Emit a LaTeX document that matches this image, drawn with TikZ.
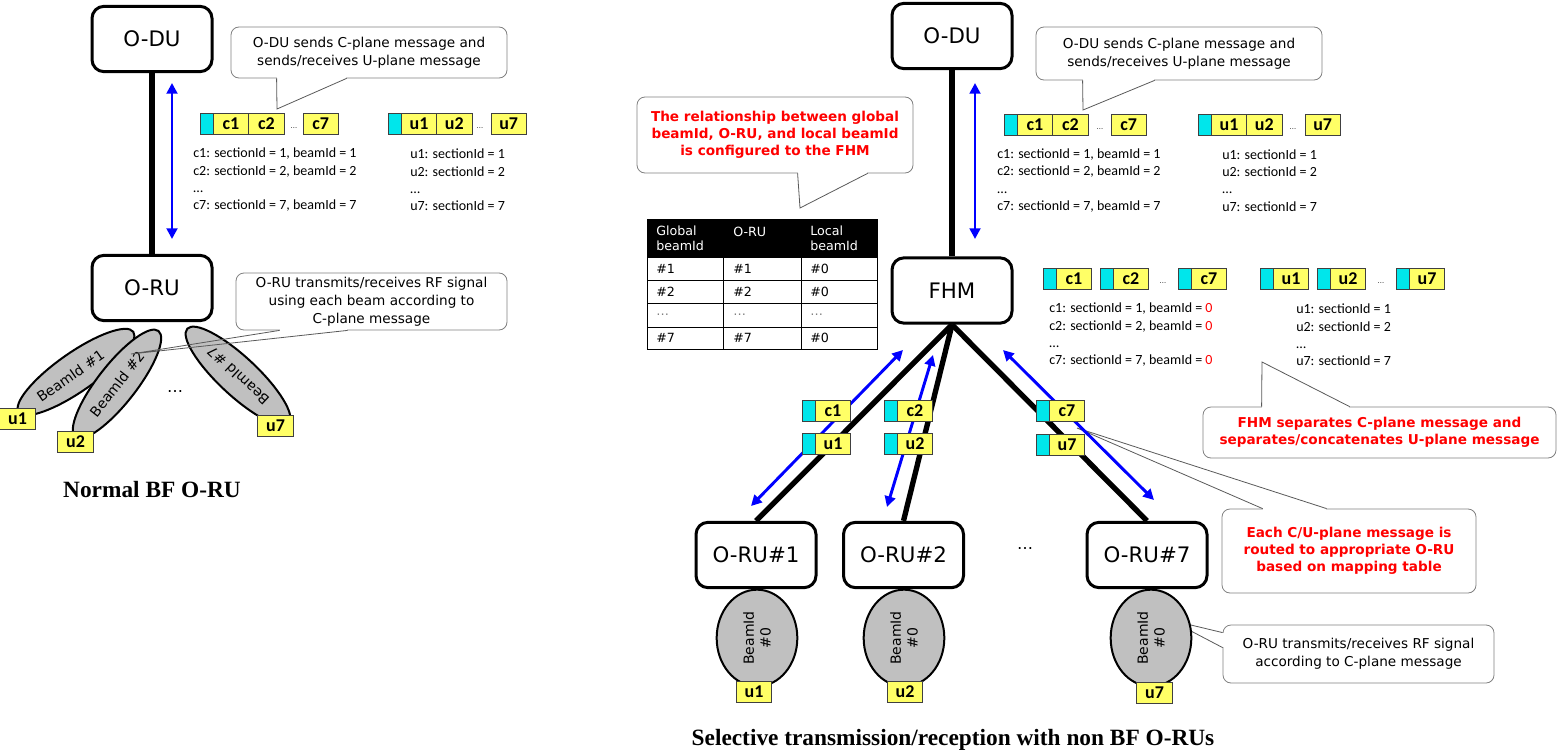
\documentclass[tikz,border=0pt]{standalone}
\usepackage{fontspec}
\setmainfont{DejaVu Sans}
\newfontfamily\calfont{Carlito}
\newfontfamily\titlefont{Liberation Serif}
\usetikzlibrary{positioning,shapes.geometric,arrows.meta}

\definecolor{hdrcyan}{HTML}{00E6EB}
\definecolor{secyellow}{HTML}{FFFF66}
\definecolor{beamgray}{HTML}{C0C0C0}

\tikzset{
	unit/.style={draw, line width=2.25pt, rounded corners=9pt, minimum width=90pt, minimum height=49pt, inner sep=0pt, font=\fontsize{16}{19}\selectfont},
	link/.style={line width=4pt},
	sig/.style={blue, line width=2.2pt, {Triangle[length=8pt,width=8pt]}-{Triangle[length=8pt,width=8pt]}},
	hdr/.style={draw=black!75, line width=0.6pt, fill=hdrcyan, minimum width=10pt, minimum height=15.75pt, inner sep=0pt, outer sep=0pt},
	sec/.style={hdr, fill=secyellow, minimum width=26.5pt, font=\calfont\bfseries\fontsize{13.5}{13.5}\selectfont},
	dots/.style={inner sep=0pt, anchor=base, font=\fontsize{5}{5}\selectfont},
	info/.style={inner sep=0pt, anchor=west, align=left, font=\calfont\fontsize{10.5}{13}\selectfont},
	note/.style={draw=gray, line width=0.6pt, fill=white, rounded corners=6pt, inner sep=0pt, align=center, font=\fontsize{10.2}{13.5}\selectfont},
	rednote/.style={note, text=red, font=\bfseries\fontsize{10.2}{12.75}\selectfont},
	ptr/.style={draw=gray!70!black, line width=0.6pt},
	erase/.style={draw=white, line width=1.4pt},
	beam/.style={ellipse, draw, line width=1.5pt, fill=beamgray, inner sep=0pt, align=center, font=\fontsize{10.5}{12.5}\selectfont},
	cell/.style={inner sep=0pt, anchor=west, align=left, font=\fontsize{9.5}{11.5}\selectfont},
	caption/.style={font=\titlefont\bfseries\fontsize{17.5}{20}\selectfont}
}

\begin{document}
\begin{tikzpicture}[x=0.75pt, y=-0.75pt]
	\useasboundingbox (0,0) rectangle (1557,753);

	\node[unit] (du1) at (152,39) {O-DU};
	\node[unit] (ru1) at (152,288) {O-RU};
	\draw[link] (du1) -- (ru1);

	\node[unit] (du2) at (952,36) {O-DU};
	\node[unit] (fhm) at (952,290.5) {FHM};
	\node[unit] (oru1) at (756,555) {O-RU\#1};
	\node[unit] (oru2) at (903.5,555) {O-RU\#2};
	\node[unit] (oru7) at (1147,555) {O-RU\#7};
	\node[font=\fontsize{12}{12}\selectfont] (orudots) at (1025,549) {…};
	\draw[link] (du2) -- (fhm);
	\draw[link] (fhm.south) -- (oru1.north);
	\draw[link] (fhm.south) -- (oru2.north);
	\draw[link] (fhm.south) -- (oru7.north);

	\node[note, minimum width=207pt, minimum height=38.25pt] (say1) at (369,52.5) {O-DU sends C-plane message and\\sends/receives U-plane message};
	\coordinate (say1tip) at (277,109);
	\draw[erase] ([xshift=35pt]say1.south west) -- ([xshift=86.5pt]say1.south west);
	\draw[ptr] ([xshift=34.5pt]say1.south west) -- (say1tip) -- ([xshift=87pt]say1.south west);

	\node[note, minimum width=214.5pt, minimum height=39.75pt] (say3) at (1179,53.5) {O-DU sends C-plane message and\\sends/receives U-plane message};
	\coordinate (say3tip) at (1083,110);
	\draw[erase] ([xshift=35.75pt]say3.south west) -- ([xshift=88.75pt]say3.south west);
	\draw[ptr] ([xshift=35.25pt]say3.south west) -- (say3tip) -- ([xshift=89.25pt]say3.south west);

	\node[rednote, minimum width=207pt, minimum height=57pt] (say4) at (775,135) {The relationship between global\\beamId, O-RU, and local beamId\\is configured to the FHM};
	\coordinate (say4tip) at (800,208);
	\draw[erase] ([xshift=121.25pt]say4.south west) -- ([xshift=172.75pt]say4.south west);
	\draw[ptr] ([xshift=120.75pt]say4.south west) -- (say4tip) -- ([xshift=173.25pt]say4.south west);

	\node[rednote, minimum width=264.75pt, minimum height=38.25pt] (say5) at (1379.5,432.5) {FHM separates C-plane message and\\separates/concatenates U-plane message};
	\coordinate (say5tip) at (1262,362);
	\draw[erase] ([xshift=44.75pt]say5.north west) -- ([xshift=109.75pt]say5.north west);
	\draw[ptr] ([xshift=44.25pt]say5.north west) -- (say5tip) -- ([xshift=110.25pt]say5.north west);

	\node[rednote, minimum width=190.5pt, minimum height=63pt] (say6) at (1349,551) {Each C/U-plane message is\\routed to appropriate O-RU\\based on mapping table};
	\coordinate (say6tip) at (1077,428);
	\draw[erase] ([xshift=31.25pt]say6.north west) -- ([xshift=78.25pt]say6.north west);
	\draw[ptr] ([xshift=30.75pt]say6.north west) -- (say6tip) -- ([xshift=78.75pt]say6.north west);

	\node[note, minimum width=203.25pt, minimum height=43.5pt] (say7) at (1358.5,654) {O-RU transmits/receives RF signal\\according to C-plane message};
	\coordinate (say7tip) at (1170,620);
	\draw[erase] ([yshift=-6.5pt]say7.north west) -- ([yshift=-16.75pt]say7.north west);
	\draw[ptr] ([yshift=-6pt]say7.north west) -- (say7tip) -- ([yshift=-17.25pt]say7.north west);

	\node[beam, rotate=35, minimum width=105pt, minimum height=29pt] (beam1) at (76,372) {BeamId \#1\hspace*{10pt}};
	\node[beam, rotate=52, minimum width=101pt, minimum height=29pt] (beam2) at (117,384) {BeamId \#2};
	\node[beam, rotate=137, minimum width=104pt, minimum height=29pt] (beam7) at (238,376) {BeamId \#7};
	\node[font=\fontsize{12}{12}\selectfont] (beamdots) at (175,392) {…};

	\node[note, minimum width=203.25pt, minimum height=42.75pt] (say2) at (371.5,301.5) {O-RU transmits/receives RF signal\\using each beam according to\\C-plane message};
	\coordinate (say2tip) at (131,354);
	\draw[erase] ([xshift=33.5pt]say2.south west) -- ([xshift=83.5pt]say2.south west);
	\draw[ptr] ([xshift=33pt]say2.south west) -- (say2tip) -- ([xshift=84pt]say2.south west);

	\node[beam, rotate=90, minimum width=72.5pt, minimum height=60.5pt] (rbeam1) at (757,638) {BeamId\\\#0};
	\node[beam, rotate=90, minimum width=72.5pt, minimum height=60.5pt] (rbeam2) at (904,638) {BeamId\\\#0};
	\node[beam, rotate=90, minimum width=72.5pt, minimum height=60.5pt] (rbeam7) at (1151,638) {BeamId\\\#0};

	\node[sec] (bu1) at (17.5,418.5) {u1};
	\node[sec] (bu2) at (75.5,442) {u2};
	\node[sec] (bu7) at (275.5,426) {u7};
	\node[sec] (rbu1) at (754,692) {u1};
	\node[sec] (rbu2) at (905,692) {u2};
	\node[sec] (rbu7) at (1154.5,692.5) {u7};

	\coordinate (sig0a) at (172,83);
	\coordinate (sig0b) at (172,239);
	\coordinate (sigda) at (975,83);
	\coordinate (sigdb) at (975,239);
	\coordinate (sig1a) at (903,350);
	\coordinate (sig1b) at (751,506);
	\coordinate (sig2a) at (933,355);
	\coordinate (sig2b) at (887,507);
	\coordinate (sig7a) at (1003,350);
	\coordinate (sig7b) at (1154,500);
	\draw[sig] (sig0a) -- (sig0b);
	\draw[sig] (sigda) -- (sigdb);
	\draw[sig] (sig1a) -- (sig1b);
	\draw[sig] (sig2a) -- (sig2b);
	\draw[sig] (sig7a) -- (sig7b);

	\node[hdr, anchor=west] (lch) at (200,123.5) {};
	\node[sec, right=0pt of lch] (lc1) {c1};
	\node[sec, right=0pt of lc1] (lc2) {c2};
	\node[dots] (lcdots) at (294,128) {…};
	\node[sec, anchor=west] (lc7) at (303,123.5) {c7};
	\node[hdr, anchor=west] (luh) at (388,123.5) {};
	\node[sec, right=0pt of luh] (lu1) {u1};
	\node[sec, right=0pt of lu1] (lu2) {u2};
	\node[dots] (ludots) at (480,128) {…};
	\node[sec, anchor=west] (lu7) at (491,123.5) {u7};
	\node[info] (lcinfo) at (193,180) {c1: sectionId = 1, beamId = 1\\c2: sectionId = 2, beamId = 2\\…\\c7: sectionId = 7, beamId = 7};
	\node[info] (luinfo) at (410,180) {u1: sectionId = 1\\u2: sectionId = 2\\…\\u7: sectionId = 7};

	\node[hdr, anchor=west] (dch) at (1004,124.5) {};
	\node[sec, right=0pt of dch] (dc1) {c1};
	\node[sec, right=0pt of dc1] (dc2) {c2};
	\node[dots] (dcdots) at (1100,129) {…};
	\node[sec, anchor=west] (dc7) at (1111,124.5) {c7};
	\node[hdr, anchor=west] (duh) at (1198,124.5) {};
	\node[sec, right=0pt of duh] (du1b) {u1};
	\node[sec, right=0pt of du1b] (du2b) {u2};
	\node[dots] (dudots) at (1293,129) {…};
	\node[sec, anchor=west] (du7b) at (1305,124.5) {u7};
	\node[info] (dcinfo) at (997,180.5) {c1: sectionId = 1, beamId = 1\\c2: sectionId = 2, beamId = 2\\…\\c7: sectionId = 7, beamId = 7};
	\node[info] (duinfo) at (1222,180.5) {u1: sectionId = 1\\u2: sectionId = 2\\…\\u7: sectionId = 7};

	\node[hdr, anchor=west] (fc1h) at (1043,278.5) {};
	\node[sec, right=0pt of fc1h] (fc1) {c1};
	\node[hdr, anchor=west] (fc2h) at (1100,278.5) {};
	\node[sec, right=0pt of fc2h] (fc2) {c2};
	\node[dots] (fcdots) at (1163,283) {…};
	\node[hdr, anchor=west] (fc7h) at (1178,278.5) {};
	\node[sec, right=0pt of fc7h] (fc7) {c7};
	\node[hdr, anchor=west] (fu1h) at (1260,278.5) {};
	\node[sec, right=0pt of fu1h] (fu1) {u1};
	\node[hdr, anchor=west] (fu2h) at (1317,278.5) {};
	\node[sec, right=0pt of fu2h] (fu2) {u2};
	\node[dots] (fudots) at (1381,283) {…};
	\node[hdr, anchor=west] (fu7h) at (1396,278.5) {};
	\node[sec, right=0pt of fu7h] (fu7) {u7};
	\node[info] (fcinfo) at (1049,335) {c1: sectionId = 1, beamId = {\color{red}0}\\c2: sectionId = 2, beamId = {\color{red}0}\\…\\c7: sectionId = 7, beamId = {\color{red}0}};
	\node[info] (fuinfo) at (1296,335) {u1: sectionId = 1\\u2: sectionId = 2\\…\\u7: sectionId = 7};

	\node[hdr, anchor=west] (kc1h) at (802,411) {};
	\node[sec, right=0pt of kc1h] (kc1) {c1};
	\node[hdr, anchor=west] (ku1h) at (802,443.5) {};
	\node[sec, right=0pt of ku1h] (ku1) {u1};
	\node[hdr, anchor=west] (kc2h) at (884,411) {};
	\node[sec, right=0pt of kc2h] (kc2) {c2};
	\node[hdr, anchor=west] (ku2h) at (884,443.5) {};
	\node[sec, right=0pt of ku2h] (ku2) {u2};
	\node[hdr, anchor=west] (kc7h) at (1036,411) {};
	\node[sec, right=0pt of kc7h] (kc7) {c7};
	\node[hdr, anchor=west] (ku7h) at (1036,444.5) {};
	\node[sec, right=0pt of ku7h] (ku7) {u7};

	\fill (647,219) rectangle (877,257);
	\draw[line width=0.75pt] (647,219) rectangle (877,349);
	\foreach \y in {257,280,303,327} \draw[line width=0.75pt] (647,\y) -- (877,\y);
	\draw[line width=0.75pt] (723,257) -- (723,349);
	\draw[line width=0.75pt] (801,257) -- (801,349);
	\node[cell, text=white] (thg) at (656,238.5) {Global\\beamId};
	\node[cell, text=white] (thr) at (733,231.5) {O-RU};
	\node[cell, text=white] (thl) at (810,238.5) {Local\\beamId};
	\foreach \y/\g/\r/\l [count=\i] in {268.5/\#1/\#1/\#0, 291.5/\#2/\#2/\#0, 315/{\color{gray}…}/{\color{gray}…}/{\color{gray}…}, 338/\#7/\#7/\#0}{
		\node[cell] (tg\i) at (656,\y) {\g};
		\node[cell] (tr\i) at (733,\y) {\r};
		\node[cell] (tl\i) at (810,\y) {\l};
	}

	\node[caption] (title1) at (152,490) {Normal BF O-RU};
	\node[caption] (title2) at (953,740) {Selective transmission/reception with non BF O-RUs};
\end{tikzpicture}
\end{document}
